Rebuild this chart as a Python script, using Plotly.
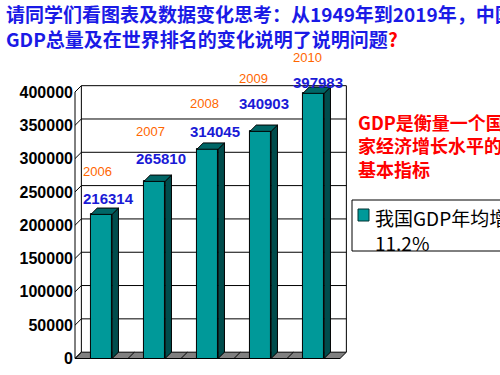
import plotly.graph_objects as go

# ---------------- data ----------------
years = ["2006", "2007", "2008", "2009", "2010"]
gdp = [216314, 265810, 314045, 340903, 397983]
tick_vals = [0, 50000, 100000, 150000, 200000, 250000, 300000, 350000, 400000]
tick_text = ["0", "50000", "100000", "150000", "200000", "250000", "300000", "350000", "400000"]
title_line1 = "请同学们看图表及数据变化思考：从1949年到2019年，中国"
title_line2 = "GDP总量及在世界排名的变化说明了说明问题"
side_note = "GDP是衡量一个国<br>家经济增长水平的<br>基本指标"
legend_text = "我国GDP年均增长<br>11.2%"

# ---------------- layout geometry (pixels) ----------------
W, H = 500, 375
PX_PER_X = 53.0          # pixels per category
X0_PX = 101.5            # pixel of category 0 centre (front plane)
PX_PER_Y = 266.5 / 400000
Y0_PX = 358.5            # pixel of value 0 (front plane)
X_RANGE = [-0.52, 4.75]
Y_RANGE = [-2000, 412000]
BAR_W = 0.4
DX = 0.12                # depth offset in x data units
DY = 9500                # depth offset in y data units

def xdom(r):
    return [(X0_PX + r[0] * PX_PER_X) / W, (X0_PX + r[1] * PX_PER_X) / W]

def ydom(r):
    return [(H - (Y0_PX - r[0] * PX_PER_Y)) / H, (H - (Y0_PX - r[1] * PX_PER_Y)) / H]

FRONT = "#009999"
SIDE = "#004c4c"
TOP = "#006666"

xs = list(range(len(gdp)))
fig = go.Figure()

# front faces
fig.add_trace(go.Bar(
    x=xs, y=gdp, width=BAR_W, name="我国GDP年均增长11.2%",
    marker=dict(color=FRONT, line=dict(color="black", width=1)),
    showlegend=False, hoverinfo="skip"))

# side faces and tops (derived from the data values)
sx, sy, tx, ty = [], [], [], []
for x, v in zip(xs, gdp):
    r = x + BAR_W / 2
    l = x - BAR_W / 2
    sx += [r, r + DX, r + DX, r, r, None]
    sy += [0, DY, v + DY, v, 0, None]
    tx += [l, r, r + DX, l + DX, l, None]
    ty += [v, v, v + DY, v + DY, v, None]
fig.add_trace(go.Scatter(x=sx, y=sy, mode="lines", fill="toself", fillcolor=SIDE,
                         line=dict(color="black", width=1), showlegend=False, hoverinfo="skip"))
fig.add_trace(go.Scatter(x=tx, y=ty, mode="lines", fill="toself", fillcolor=TOP,
                         line=dict(color="black", width=1), showlegend=False, hoverinfo="skip"))

shapes = []
xl, xr = -0.5, len(gdp) - 0.5
ymax = tick_vals[-1]
# floor
shapes.append(dict(type="path", layer="below", xref="x", yref="y",
                   path=f"M{xl},0 L{xr},0 L{xr+DX},{DY} L{xl+DX},{DY} Z",
                   fillcolor="#808080", line=dict(color="black", width=1)))
for i in range(len(gdp) - 1):
    b = i + 0.5
    shapes.append(dict(type="line", layer="below", xref="x", yref="y",
                       x0=b, y0=0, x1=b + DX, y1=DY, line=dict(color="black", width=1)))
# back wall gridlines
for v in tick_vals[1:]:
    shapes.append(dict(type="line", layer="below", xref="x", yref="y",
                       x0=xl + DX, y0=v + DY, x1=xr + DX, y1=v + DY,
                       line=dict(color="black", width=1)))
# back wall edges
for xe in (xl + DX, xr + DX):
    shapes.append(dict(type="line", layer="below", xref="x", yref="y",
                       x0=xe, y0=DY, x1=xe, y1=ymax + DY, line=dict(color="black", width=1)))
# left wall: front edge and diagonal ticks
shapes.append(dict(type="line", layer="below", xref="x", yref="y",
                   x0=xl, y0=0, x1=xl, y1=ymax, line=dict(color="black", width=1)))
for v in tick_vals:
    shapes.append(dict(type="line", layer="below", xref="x", yref="y",
                       x0=xl, y0=v, x1=xl + DX, y1=v + DY, line=dict(color="black", width=1)))

# custom legend box
shapes.append(dict(type="rect", xref="paper", yref="paper",
                   x0=352 / W, x1=540 / W, y0=(H - 251) / H, y1=(H - 200) / H,
                   fillcolor="white", line=dict(color="black", width=1)))
shapes.append(dict(type="rect", xref="paper", yref="paper",
                   x0=358 / W, x1=369 / W, y0=(H - 221) / H, y1=(H - 209) / H,
                   fillcolor=FRONT, line=dict(color="#003333", width=1)))

annotations = []
NUM_FONT = "Liberation Sans, Arial, Noto Sans CJK SC"
year_shift = [43, 50, 46, 53, 36]
value_shift = [16, 23, 18, 28, 11]
x_shift = [-10, -10, -9, -13, -12]
for i, (yr, v) in enumerate(zip(years, gdp)):
    annotations.append(dict(x=i - BAR_W / 2, y=v, xref="x", yref="y", text=yr,
                            showarrow=False, xanchor="left", yanchor="middle",
                            xshift=x_shift[i], yshift=year_shift[i],
                            font=dict(family=NUM_FONT, size=13, color="#ff6600")))
    annotations.append(dict(x=i - BAR_W / 2, y=v, xref="x", yref="y", text=f"<b>{v}</b>",
                            showarrow=False, xanchor="left", yanchor="middle",
                            xshift=x_shift[i], yshift=value_shift[i],
                            font=dict(family=NUM_FONT, size=15, color="#1a1ad6")))

CJK = "Noto Sans CJK SC"
annotations.append(dict(x=4 / W, y=(H - 25.8) / H, xref="paper", yref="paper",
                        text=(f"<b>{title_line1}</b><br><b>{title_line2}</b>"
                              "<b><span style='color:#ff0000'>?</span></b>"),
                        showarrow=False, align="left",
                        xanchor="left", yanchor="middle",
                        font=dict(family=CJK, size=19, color="#1a1ae6")))
annotations.append(dict(x=356 / W, y=(H - 145) / H, xref="paper", yref="paper",
                        text=f"<b>{side_note}</b>", showarrow=False, align="left",
                        xanchor="left", yanchor="middle",
                        font=dict(family=CJK, size=18, color="#ff0000")))
annotations.append(dict(x=373 / W, y=(H - 229.5) / H, xref="paper", yref="paper",
                        text=legend_text, showarrow=False, align="left",
                        xanchor="left", yanchor="middle",
                        font=dict(family=CJK, size=19, color="black")))

fig.update_layout(
    width=W, height=H,
    margin=dict(l=0, r=0, t=0, b=0, pad=0),
    paper_bgcolor="white", plot_bgcolor="white",
    xaxis=dict(range=X_RANGE, domain=xdom(X_RANGE), visible=False, automargin=False),
    yaxis=dict(range=Y_RANGE, domain=ydom(Y_RANGE), tickvals=tick_vals, ticktext=tick_text,
               showgrid=False, zeroline=False, showline=False, ticks="", automargin=False,
               tickfont=dict(family=NUM_FONT, size=16, color="black", weight="bold")),
    shapes=shapes, annotations=annotations, showlegend=False,
    bargap=0,
)

fig.write_html("out.html", config={"displayModeBar": False},
               post_script="document.body.style.margin='0';")
